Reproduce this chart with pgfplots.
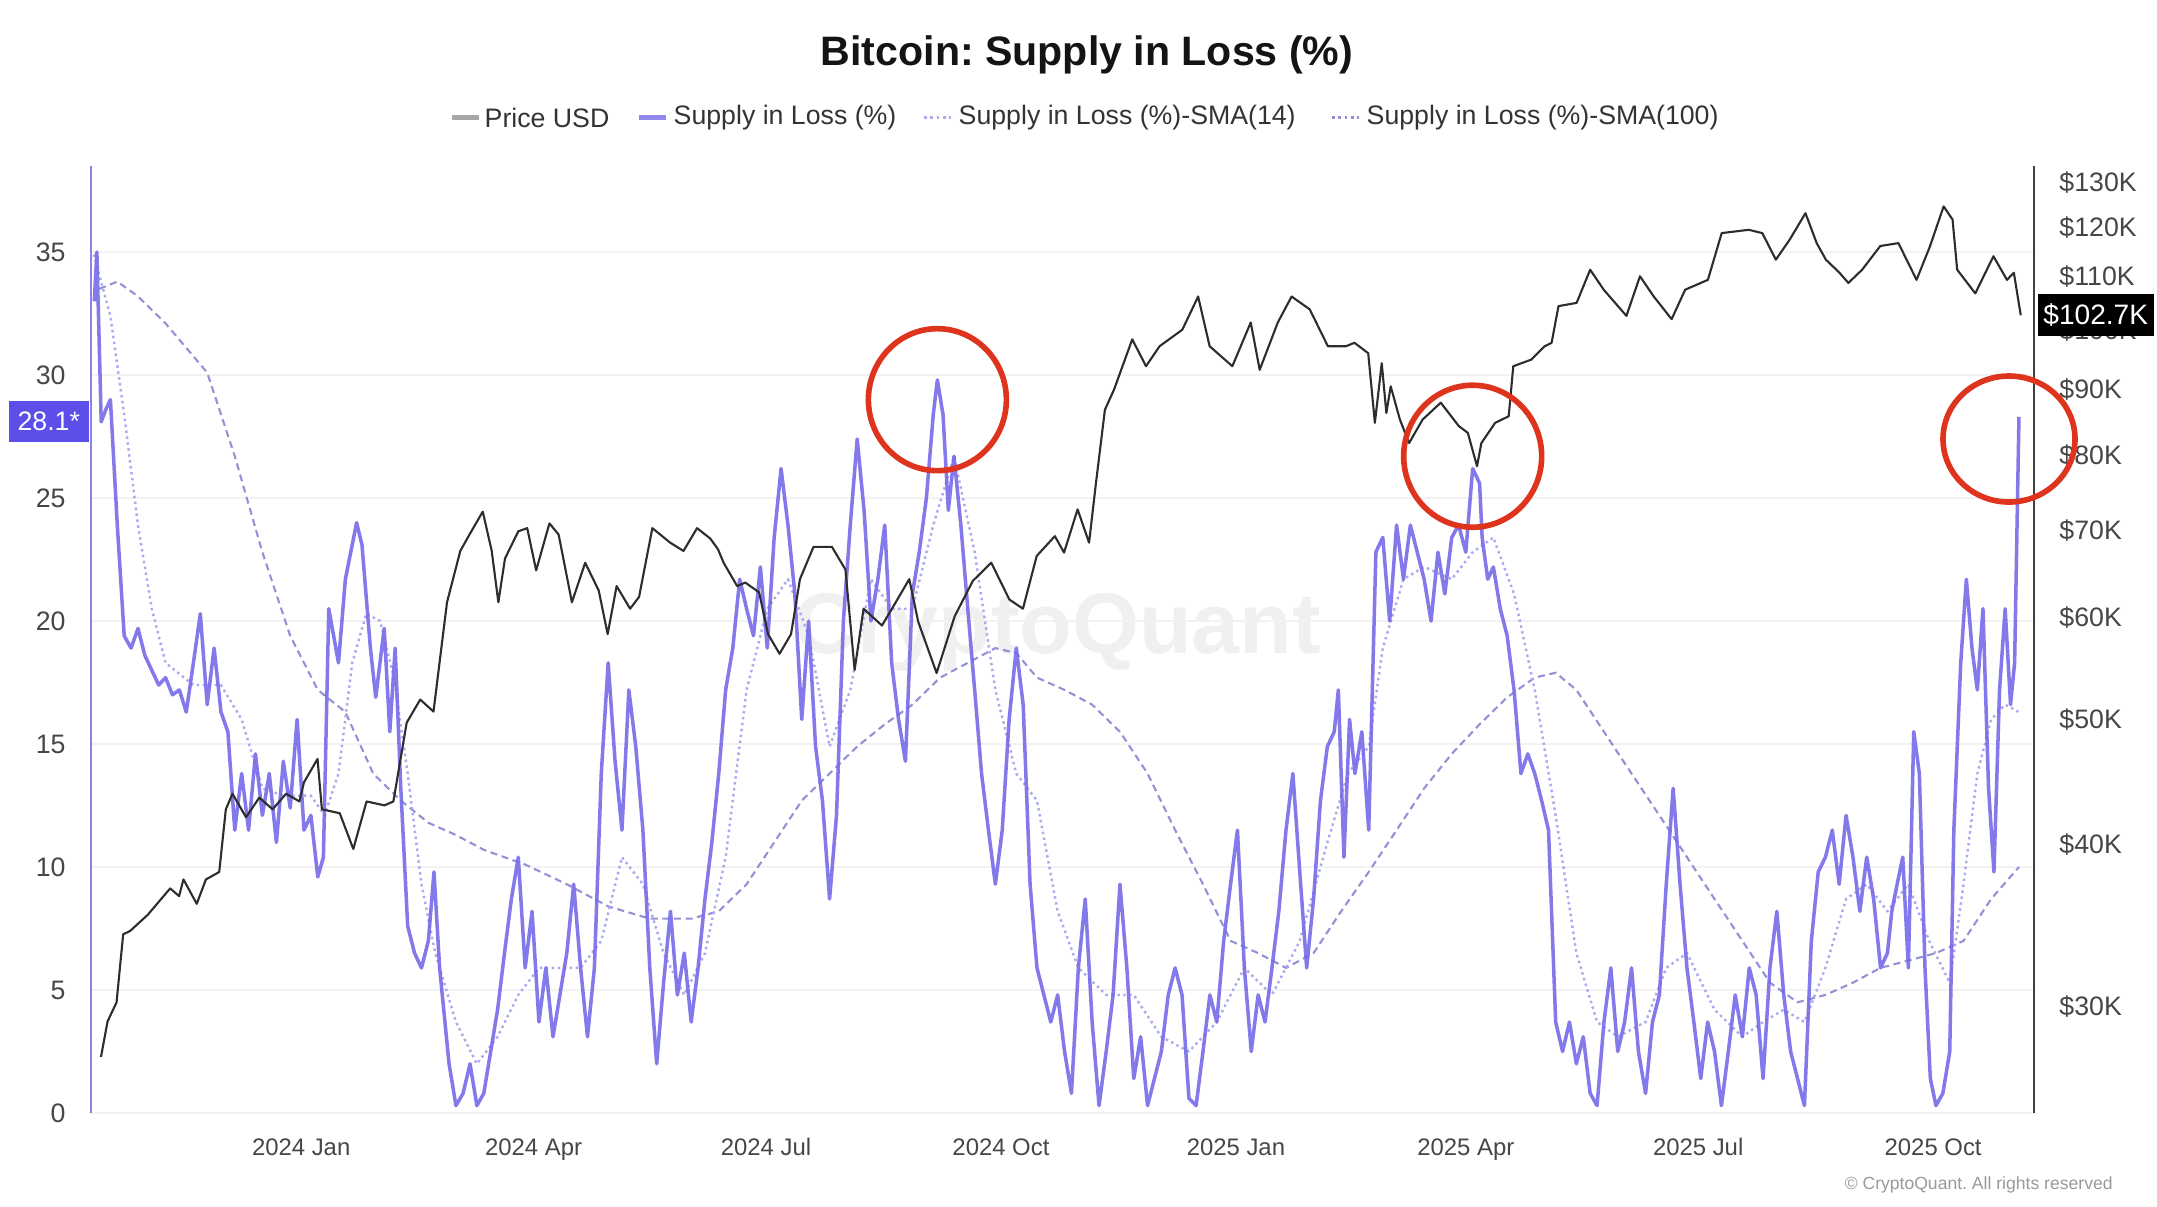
\documentclass[border=0pt]{standalone}
\usepackage{fontspec}
\setmainfont{Liberation Sans}
\usepackage{pgfplots}
\pgfplotsset{compat=1.18}
\usepackage{pgfplotstable}
\frenchspacing

\definecolor{supc}{RGB}{118,106,232}
\definecolor{s14c}{RGB}{176,168,238}
\definecolor{s100c}{RGB}{150,145,212}
\definecolor{pricec}{RGB}{45,45,45}
\definecolor{leftc}{RGB}{140,130,228}
\definecolor{boxc}{RGB}{92,78,232}
\definecolor{ticc}{RGB}{70,70,70}
\definecolor{redc}{RGB}{222,52,30}

\pgfplotstableread{
d v
-81.0 33.0
-80.0 35.0
-78.3 28.1
-76.5 28.6
-74.7 29.0
-72.0 23.9
-69.3 19.4
-66.6 18.9
-63.9 19.7
-61.2 18.6
-58.5 18.0
-55.8 17.4
-53.1 17.7
-50.4 17.0
-47.7 17.2
-45.0 16.3
-42.2 18.3
-39.5 20.3
-36.8 16.6
-34.1 18.9
-31.4 16.3
-28.7 15.5
-26.0 11.5
-23.3 13.8
-20.6 11.5
-17.9 14.6
-15.2 12.1
-12.5 13.8
-9.7 11.0
-7.0 14.3
-4.3 12.4
-1.6 16.0
1.1 11.5
3.8 12.1
6.5 9.6
8.7 10.4
10.8 20.5
14.6 18.3
17.3 21.7
21.7 24.0
23.8 23.1
27.1 18.9
29.2 16.9
32.5 19.7
34.7 15.5
36.8 18.9
39.0 13.2
41.7 7.6
44.4 6.5
47.1 5.9
49.8 7.0
52.0 9.8
54.2 5.9
57.9 2.0
60.6 0.3
63.4 0.8
66.1 2.0
68.8 0.3
71.5 0.8
74.2 2.5
76.9 4.2
79.6 6.5
82.3 8.7
85.0 10.4
87.7 5.9
90.4 8.2
93.1 3.7
95.8 5.9
98.6 3.1
101.3 4.8
104.0 6.5
106.7 9.3
109.4 5.9
112.1 3.1
114.8 5.9
117.5 13.8
120.2 18.3
122.9 14.3
125.6 11.5
128.3 17.2
131.0 14.9
133.8 11.5
136.5 5.9
139.2 2.0
141.9 5.3
144.6 8.2
147.3 4.8
150.0 6.5
152.7 3.7
155.4 5.9
158.1 8.7
160.8 11.0
163.5 13.8
166.2 17.2
169.0 18.9
171.7 21.7
174.4 20.5
177.1 19.4
179.8 22.2
182.5 18.9
185.2 23.4
187.9 26.2
190.6 23.9
193.3 21.1
196.0 16.0
198.7 20.0
201.4 14.9
204.1 12.7
206.9 8.7
209.6 12.1
212.3 20.0
215.0 23.9
217.7 27.4
220.4 24.5
223.1 20.0
225.8 21.7
228.5 23.9
231.2 18.3
233.9 16.0
236.6 14.3
239.3 21.1
242.0 22.8
244.8 25.0
247.5 28.4
249.1 29.8
251.3 28.4
253.4 24.5
255.6 26.7
258.3 23.9
261.0 20.5
263.7 17.2
266.4 13.8
269.1 11.5
271.8 9.3
274.5 11.5
277.2 16.0
280.0 18.9
282.7 16.6
285.4 9.3
288.1 5.9
290.8 4.8
293.5 3.7
296.2 4.8
298.9 2.5
301.6 0.8
304.3 5.9
307.0 8.7
309.7 3.7
312.4 0.3
315.2 2.5
317.9 4.8
320.6 9.3
323.3 5.9
326.0 1.4
328.7 3.1
331.4 0.3
334.1 1.4
336.8 2.5
339.5 4.8
342.2 5.9
344.9 4.8
347.6 0.6
350.4 0.3
353.1 2.5
355.8 4.8
358.5 3.7
361.2 7.0
363.9 9.3
366.6 11.5
369.3 5.9
372.0 2.5
374.7 4.8
377.4 3.7
380.1 5.9
382.8 8.2
385.6 11.5
388.3 13.8
391.0 9.8
393.7 5.9
396.4 8.7
399.1 12.7
401.8 14.9
404.5 15.5
406.1 17.2
408.3 10.4
410.5 16.0
412.6 13.8
415.3 15.5
418.0 11.5
420.8 22.8
423.5 23.4
426.2 20.0
428.9 23.9
431.6 21.7
434.3 23.9
437.0 22.8
439.7 21.7
442.4 20.0
445.1 22.8
447.8 21.1
450.5 23.4
453.2 23.9
456.0 22.8
458.7 26.2
461.4 25.6
462.4 23.4
464.6 21.7
466.8 22.2
469.5 20.5
472.2 19.4
474.9 17.2
477.6 13.8
480.3 14.6
483.0 13.8
485.7 12.7
488.4 11.5
491.2 3.7
493.9 2.5
496.6 3.7
499.3 2.0
502.0 3.1
504.7 0.8
507.4 0.3
510.1 3.7
512.8 5.9
515.5 2.5
518.2 3.7
520.9 5.9
523.6 2.5
526.4 0.8
529.1 3.7
531.8 4.8
534.5 9.3
537.2 13.2
539.9 9.3
542.6 5.9
545.3 3.7
548.0 1.4
550.7 3.7
553.4 2.5
556.1 0.3
558.8 2.5
561.5 4.8
564.3 3.1
567.0 5.9
569.7 4.8
572.4 1.4
575.1 5.9
577.8 8.2
580.5 4.8
583.2 2.5
585.9 1.4
588.6 0.3
591.3 7.0
594.0 9.8
596.8 10.4
599.5 11.5
602.2 9.3
604.9 12.1
607.6 10.4
610.3 8.2
613.0 10.4
615.7 8.7
618.4 5.9
621.1 6.5
622.8 8.2
624.9 9.3
627.1 10.4
629.3 5.9
631.4 15.5
633.6 13.8
635.8 5.9
637.9 1.4
640.1 0.3
642.8 0.8
645.5 2.5
647.1 11.5
649.8 18.3
652.0 21.7
654.2 18.9
656.3 17.2
658.5 20.5
660.7 13.2
662.8 9.8
665.0 17.2
667.2 20.5
669.3 16.6
670.9 18.3
672.6 28.3
}\supply

\pgfplotstableread{
d v
-81.2 34.9
-74.7 32.4
-69.3 28.4
-63.9 23.9
-58.5 20.5
-53.1 18.3
-42.2 17.4
-31.4 17.4
-23.3 16.0
-15.2 13.2
-7.0 12.9
3.8 12.9
9.2 12.1
14.6 13.8
20.0 18.3
25.5 20.3
30.9 20.0
36.3 17.7
41.7 13.8
47.1 9.3
52.5 6.5
60.6 3.7
68.8 2.0
76.9 3.1
85.0 4.8
93.1 5.9
101.3 5.9
109.4 5.9
117.5 7.0
125.6 10.4
133.8 9.3
141.9 6.5
150.0 4.8
158.1 6.5
166.2 10.4
174.4 17.2
182.5 20.5
190.6 21.7
198.7 19.4
206.9 14.9
215.0 17.2
223.1 21.7
231.2 20.5
239.3 20.5
247.5 23.9
255.6 26.7
263.7 22.8
271.8 17.2
280.0 13.8
288.1 12.7
296.2 8.2
304.3 5.9
315.2 4.8
326.0 4.8
336.8 3.1
347.6 2.5
358.5 3.7
369.3 5.9
380.1 4.8
391.0 7.0
401.8 11.0
409.9 13.8
418.0 14.9
423.5 18.9
431.6 21.7
439.7 22.2
450.5 21.7
458.7 22.8
466.8 23.4
474.9 21.1
483.0 17.2
491.2 12.1
499.3 6.5
507.4 3.7
515.5 3.1
526.4 3.7
534.5 5.9
542.6 6.5
553.4 4.2
564.3 3.1
572.4 3.7
580.5 4.2
588.6 3.7
596.8 5.9
604.9 8.7
613.0 9.3
621.1 8.2
629.3 9.3
637.4 7.0
645.5 5.3
650.9 9.3
656.3 13.8
661.7 16.0
667.2 16.6
672.6 16.3
}\smaA

\pgfplotstableread{
d v
-79.1 33.5
-72.0 33.8
-63.9 33.2
-53.1 32.1
-36.8 30.1
-26.0 26.7
-15.2 22.8
-4.3 19.4
6.5 17.2
17.3 16.3
28.2 13.8
39.0 12.7
49.8 11.8
60.6 11.3
71.5 10.7
87.7 10.1
104.0 9.3
120.2 8.4
136.5 7.9
152.7 7.9
163.5 8.2
174.4 9.3
185.2 11.0
196.0 12.7
206.9 13.8
217.7 14.9
228.5 15.8
239.3 16.6
250.2 17.7
261.0 18.3
271.8 18.9
280.0 18.7
288.1 17.7
298.9 17.2
309.7 16.6
320.6 15.5
331.4 13.8
342.2 11.5
353.1 9.3
363.9 7.0
374.7 6.5
385.6 5.9
396.4 6.5
407.2 8.2
418.0 9.8
428.9 11.5
439.7 13.2
450.5 14.6
461.4 15.8
472.2 16.9
483.0 17.7
491.2 17.9
499.3 17.2
510.1 15.5
520.9 13.8
531.8 12.1
542.6 10.4
553.4 8.7
564.3 7.0
575.1 5.3
585.9 4.5
596.8 4.8
607.6 5.3
618.4 5.9
629.3 6.2
640.1 6.5
650.9 7.0
661.7 8.7
672.6 10.0
}\smaB

\pgfplotstableread{
d p
-78.4 27.4
-75.8 29.2
-72.3 30.2
-69.7 34.1
-67.0 34.3
-60.1 35.3
-51.3 37.0
-47.8 36.5
-46.1 37.6
-40.9 36.0
-37.3 37.6
-32.1 38.1
-29.5 42.6
-26.9 43.8
-21.6 42.0
-16.4 43.5
-11.2 42.6
-5.9 43.8
-0.7 43.2
1.1 44.7
6.4 46.6
8.1 42.6
15.1 42.3
20.4 39.7
25.6 43.2
32.6 42.9
36.1 43.2
41.3 49.7
46.6 51.8
51.8 50.7
57.1 61.6
62.3 67.5
65.9 69.5
71.1 72.4
74.6 67.5
77.2 61.6
79.8 66.6
85.0 69.9
88.5 70.3
92.0 65.2
97.2 70.9
100.8 69.5
106.0 61.6
111.2 66.1
116.5 62.9
120.0 58.2
123.5 63.4
128.8 60.9
132.3 62.2
137.5 70.3
144.5 68.5
149.7 67.5
155.0 70.3
160.2 69.0
163.2 67.7
165.4 66.1
170.7 63.4
173.9 63.8
179.3 62.7
182.8 58.2
187.3 56.2
191.8 58.2
195.3 64.2
200.6 68.0
207.8 68.0
213.1 65.3
216.7 54.6
220.2 60.9
227.4 59.1
232.8 61.6
238.1 64.2
241.6 59.5
248.8 54.3
255.9 60.1
263.0 64.0
270.2 66.1
277.3 61.9
282.6 60.9
288.0 66.9
295.1 69.3
298.7 67.3
304.0 72.7
308.5 68.5
311.2 76.2
314.7 86.8
318.3 90.0
325.4 98.4
330.8 93.8
336.1 97.2
345.0 100.1
351.2 106.2
355.7 97.2
364.6 93.8
371.8 101.4
375.3 93.2
382.4 101.4
387.8 106.2
394.9 103.8
402.0 97.2
409.1 97.2
412.4 97.8
417.8 96.0
420.4 84.8
423.1 94.3
424.9 86.3
426.6 90.5
430.2 85.3
433.8 81.8
439.1 85.3
446.2 87.9
453.3 84.3
456.8 83.3
460.4 78.5
462.1 81.8
467.5 84.8
472.8 85.8
474.6 93.8
481.6 94.9
486.9 97.2
489.6 97.8
492.3 104.4
499.4 105.0
504.7 111.4
510.0 107.5
518.9 102.6
524.2 110.1
529.6 106.2
536.6 102.0
541.9 107.5
550.8 109.4
556.2 118.9
566.8 119.6
572.1 118.9
577.4 113.4
582.8 117.5
589.0 123.2
593.4 116.8
597.0 113.4
602.3 110.8
605.8 108.8
611.2 111.4
618.3 116.2
625.4 116.8
632.5 109.4
637.8 116.2
643.1 124.7
646.6 121.8
648.4 111.4
655.5 106.8
662.6 114.1
667.9 109.4
670.6 110.8
673.3 102.7
}\price

\begin{document}
\begin{tikzpicture}
\useasboundingbox (0,0) rectangle (215.7mm,120.6mm);
% watermark
\node[text=gray!12, font=\bfseries\fontsize{24.5}{28}\selectfont] at (105.8mm,57.4mm) {CryptoQuant};
% title
\node[text=black!92, font=\bfseries\fontsize{11.7}{14}\selectfont] at (108.7mm,115.1mm) {Bitcoin: Supply in Loss (\%)};
% copyright
\node[anchor=east, text=gray!80, font=\fontsize{5}{6}\selectfont] at (212.5mm,2.1mm) {\textcopyright{} CryptoQuant. All rights reserved};

\begin{axis}[
  at={(9.1mm,9.3mm)}, anchor=south west,
  scale only axis, width=194.3mm, height=94.7mm,
  xmin=-82.3, xmax=678.5, ymin=0, ymax=38.5,
  axis line style={draw=none},
  major tick length=0pt, minor tick num=0,
  xtick={0,91,182,274,366,456,547,639},
  xticklabels={2024 Jan,2024 Apr,2024 Jul,2024 Oct,2025 Jan,2025 Apr,2025 Jul,2025 Oct},
  ytick={0,5,10,15,20,25,30,35},
  yticklabels={0,5,10,15,20,25,30,35},
  ymajorgrids, grid style={gray!10, line width=0.5pt},
  xticklabel style={text=ticc, font=\fontsize{6.8}{8}\selectfont, yshift=-1.3mm},
  yticklabel style={text=ticc, font=\fontsize{7.6}{9}\selectfont, xshift=-1.3mm},
  line join=round,
]
\addplot[s100c, line width=0.6pt, dash pattern=on 2pt off 1.3pt] table[x=d,y=v] {\smaB};
\addplot[s14c, line width=0.7pt, densely dotted] table[x=d,y=v] {\smaA};
\addplot[supc, line width=1.0pt, opacity=0.9] table[x=d,y=v] {\supply};
\coordinate (c1) at (axis cs:249.1,29.0);
\coordinate (c2) at (axis cs:458.7,26.7);
\coordinate (c3) at (axis cs:668.7,27.4);
\coordinate (lbl) at (axis cs:-82.3,28.1);
\coordinate (ax0) at (rel axis cs:0,0);
\coordinate (ax1) at (rel axis cs:0,1);
\coordinate (bx0) at (rel axis cs:1,0);
\coordinate (bx1) at (rel axis cs:1,1);
\end{axis}

\begin{axis}[
  at={(9.1mm,9.3mm)}, anchor=south west,
  scale only axis, width=194.3mm, height=94.7mm,
  xmin=-82.3, xmax=678.5, ymode=log, ymin=24.8, ymax=134,
  axis line style={draw=none}, hide x axis,
  major tick length=0pt, minor tick length=0pt,
  yticklabel pos=right,
  ytick={30,40,50,60,70,80,90,100,110,120,130},
  yticklabels={\$30K,\$40K,\$50K,\$60K,\$70K,\$80K,\$90K,\$100K,\$110K,\$120K,\$130K},
  yticklabel style={text=ticc, font=\fontsize{7.6}{9}\selectfont, xshift=1.3mm},
  line join=round,
]
\addplot[pricec, line width=0.6pt] table[x=d,y=p] {\price};
\coordinate (plbl) at (axis cs:678.5,102.7);
\end{axis}

% axis lines
\draw[leftc, line width=0.8pt] (ax0) -- (ax1);
\draw[black!75, line width=0.8pt] (bx0) -- (bx1);

% legend
\begin{scope}[font=\fontsize{7.6}{9}\selectfont]
\def\ly{108.85mm}
\draw[gray!70, line width=1.2pt] (45.2mm,\ly) -- (47.9mm,\ly);
\node[anchor=west, inner sep=0pt, text=black!80] at (48.4mm,\ly) {Price USD};
\draw[supc!80, line width=1.2pt] (63.9mm,\ly) -- (66.6mm,\ly);
\node[anchor=west, inner sep=0pt, text=black!80] at (67.3mm,\ly) {Supply in Loss (\%)};
\draw[s14c, line width=0.8pt, densely dotted] (92.4mm,\ly) -- (95.1mm,\ly);
\node[anchor=west, inner sep=0pt, text=black!80] at (95.8mm,\ly) {Supply in Loss (\%)-SMA(14)};
\draw[s100c, line width=0.8pt, densely dotted] (133.2mm,\ly) -- (135.9mm,\ly);
\node[anchor=west, inner sep=0pt, text=black!80] at (136.6mm,\ly) {Supply in Loss (\%)-SMA(100)};
\end{scope}

% red circles
\draw[redc, line width=1.6pt] (c1) ellipse [x radius=6.9mm, y radius=7.1mm];
\draw[redc, line width=1.6pt] (c2) ellipse [x radius=6.9mm, y radius=7.1mm];
\draw[redc, line width=1.6pt] (c3) ellipse [x radius=6.6mm, y radius=6.3mm];

% value boxes
\node[fill=boxc, text=white, anchor=east, minimum width=8mm, minimum height=4.1mm, inner sep=0.4mm, font=\fontsize{7.6}{9}\selectfont] at ([xshift=-0.15mm]lbl) {28.1*};
\node[fill=black, text=white, anchor=west, minimum width=11.6mm, minimum height=4.2mm, inner sep=0.4mm, font=\fontsize{8}{9}\selectfont] at ([xshift=0.3mm]plbl) {\$102.7K};
\end{tikzpicture}
\end{document}
